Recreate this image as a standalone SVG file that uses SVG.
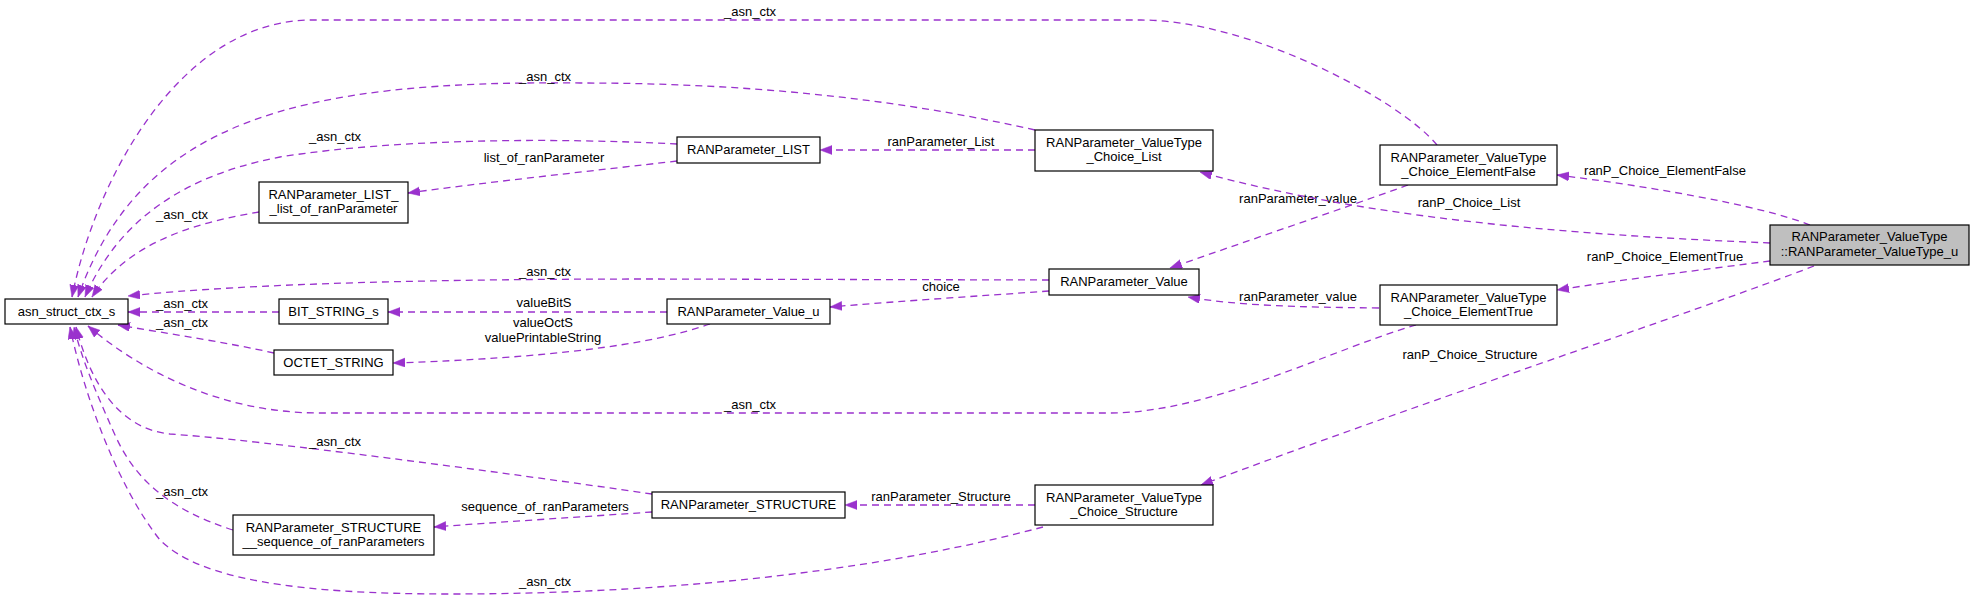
<svg xmlns="http://www.w3.org/2000/svg" width="1975" height="600" viewBox="0 0 1975 600">
<style>
.node rect{fill:#fff;stroke:#000;stroke-width:1.2}
.node text,.lbl{font-family:"Liberation Sans",Arial,sans-serif;font-size:13px;fill:#000;text-anchor:middle}
.e{fill:none;stroke:#9a32cd;stroke-width:1.3;stroke-dasharray:7,5;marker-end:url(#arr)}
</style>
<defs>
<marker id="arr" markerUnits="userSpaceOnUse" markerWidth="13" markerHeight="10" refX="12" refY="4.5" orient="auto">
<path d="M0,0 L12,4.5 L0,9 z" fill="#9a32cd" stroke="#9a32cd" stroke-width="0.5"/>
</marker>
</defs>
<rect width="1975" height="600" fill="#fff"/>
<g id="connectors">
<g><path class="e" d="M1437,145 C1400,100 1250,20 1141,20 L312,20 C180,20 95,180 72,297"/><text class="lbl" x="750" y="16">_asn_ctx</text></g>
<g><path class="e" d="M1035,130 C880,95 730,83 580,83 C300,80 140,120 78,297"/><text class="lbl" x="545" y="81">_asn_ctx</text></g>
<g><path class="e" d="M677,144 C560,138 400,138 280,157 C160,180 110,240 85,297"/><text class="lbl" x="335" y="141">_asn_ctx</text></g>
<g><path class="e" d="M259,212 C200,222 130,240 92,297"/><text class="lbl" x="182" y="219">_asn_ctx</text></g>
<g><path class="e" d="M1049,280 L650,279 C450,279 250,283 128,296"/><text class="lbl" x="545" y="276">_asn_ctx</text></g>
<g><path class="e" d="M279,312 L128,312"/><text class="lbl" x="182" y="308">_asn_ctx</text></g>
<g><path class="e" d="M274,353 C230,343 170,334 118,325"/><text class="lbl" x="182" y="327">_asn_ctx</text></g>
<g><path class="e" d="M1416,325 C1330,350 1210,413 1110,413 L320,413 C220,413 140,370 88,326"/><text class="lbl" x="750" y="409">_asn_ctx</text></g>
<g><path class="e" d="M652,494 C500,472 260,440 170,434 C130,430 95,400 76,327"/><text class="lbl" x="335" y="446">_asn_ctx</text></g>
<g><path class="e" d="M233,530 C170,510 135,480 115,435 C95,390 82,360 74,327"/><text class="lbl" x="182" y="496">_asn_ctx</text></g>
<g><path class="e" d="M1043,527 C900,565 700,594 450,594 C300,594 200,580 160,540 C120,490 85,400 70,327"/><text class="lbl" x="545" y="586">_asn_ctx</text></g>
<g><path class="e" d="M667,312 L388,312"/><text class="lbl" x="544" y="307">valueBitS</text></g>
<g><path class="e" d="M710,324 C650,345 550,358 393,363"/><text class="lbl" x="543" y="327">valueOctS</text><text class="lbl" x="543" y="342">valuePrintableString</text></g>
<g><path class="e" d="M677,161 C600,170 480,183 408,193"/><text class="lbl" x="544" y="162">list_of_ranParameter</text></g>
<g><path class="e" d="M1035,150 L820,150"/><text class="lbl" x="941" y="146">ranParameter_List</text></g>
<g><path class="e" d="M1049,291 C980,296 900,301 830,307"/><text class="lbl" x="941" y="291">choice</text></g>
<g><path class="e" d="M1408,185 C1330,213 1250,240 1170,268"/><text class="lbl" x="1298" y="203">ranParameter_value</text></g>
<g><path class="e" d="M1379,308 C1300,307 1240,306 1188,297"/><text class="lbl" x="1298" y="301">ranParameter_value</text></g>
<g><path class="e" d="M652,512 C580,517 500,522 434,527"/><text class="lbl" x="545" y="511">sequence_of_ranParameters</text></g>
<g><path class="e" d="M1035,505 L845,505"/><text class="lbl" x="941" y="501">ranParameter_Structure</text></g>
<g><path class="e" d="M1810,225 C1760,205 1640,185 1557,175"/><text class="lbl" x="1665" y="175">ranP_Choice_ElementFalse</text></g>
<g><path class="e" d="M1770,243 C1600,236 1380,222 1200,172"/><text class="lbl" x="1469" y="207">ranP_Choice_List</text></g>
<g><path class="e" d="M1770,261 C1700,270 1620,280 1557,290"/><text class="lbl" x="1665" y="261">ranP_Choice_ElementTrue</text></g>
<g><path class="e" d="M1814,266 C1700,310 1400,410 1201,485"/><text class="lbl" x="1470" y="359">ranP_Choice_Structure</text></g>
</g>
<g id="asn_struct_ctx_s" class="node"><rect x="5" y="299" width="123" height="25"/><text x="66.5" y="316">asn_struct_ctx_s</text></g>
<g id="BIT_STRING_s" class="node"><rect x="279" y="299" width="109" height="25"/><text x="333.5" y="316">BIT_STRING_s</text></g>
<g id="OCTET_STRING" class="node"><rect x="274" y="350" width="119" height="25"/><text x="333.5" y="367">OCTET_STRING</text></g>
<g id="RANParameter_LIST__list_of_ranParameter" class="node"><rect x="259" y="182" width="149" height="41"/><text x="333.5" y="199">RANParameter_LIST_</text><text x="333.5" y="213">_list_of_ranParameter</text></g>
<g id="RANParameter_LIST" class="node"><rect x="677" y="137" width="143" height="26"/><text x="748.5" y="154">RANParameter_LIST</text></g>
<g id="RANParameter_Value_u" class="node"><rect x="667" y="299" width="163" height="25"/><text x="748.5" y="316">RANParameter_Value_u</text></g>
<g id="RANParameter_Value" class="node"><rect x="1049" y="269" width="150" height="26"/><text x="1124" y="286">RANParameter_Value</text></g>
<g id="RANParameter_STRUCTURE" class="node"><rect x="652" y="492" width="193" height="26"/><text x="748.5" y="509">RANParameter_STRUCTURE</text></g>
<g id="RANParameter_STRUCTURE__sequence_of_ranParameters" class="node"><rect x="233" y="515" width="201" height="40"/><text x="333.5" y="532">RANParameter_STRUCTURE</text><text x="333.5" y="546">__sequence_of_ranParameters</text></g>
<g id="RANParameter_ValueType_Choice_List" class="node"><rect x="1035" y="130" width="178" height="41"/><text x="1124" y="147">RANParameter_ValueType</text><text x="1124" y="161">_Choice_List</text></g>
<g id="RANParameter_ValueType_Choice_Structure" class="node"><rect x="1035" y="485" width="178" height="40"/><text x="1124" y="502">RANParameter_ValueType</text><text x="1124" y="516">_Choice_Structure</text></g>
<g id="RANParameter_ValueType_Choice_ElementFalse" class="node"><rect x="1380" y="145" width="177" height="40"/><text x="1468.5" y="162">RANParameter_ValueType</text><text x="1468.5" y="176">_Choice_ElementFalse</text></g>
<g id="RANParameter_ValueType_Choice_ElementTrue" class="node"><rect x="1380" y="285" width="177" height="40"/><text x="1468.5" y="302">RANParameter_ValueType</text><text x="1468.5" y="316">_Choice_ElementTrue</text></g>
<g id="RANParameter_ValueType_u" class="node"><rect x="1770" y="225" width="199" height="40" style="fill:#bfbfbf"/><text x="1869.5" y="241">RANParameter_ValueType</text><text x="1869.5" y="256">::RANParameter_ValueType_u</text></g>
</svg>
